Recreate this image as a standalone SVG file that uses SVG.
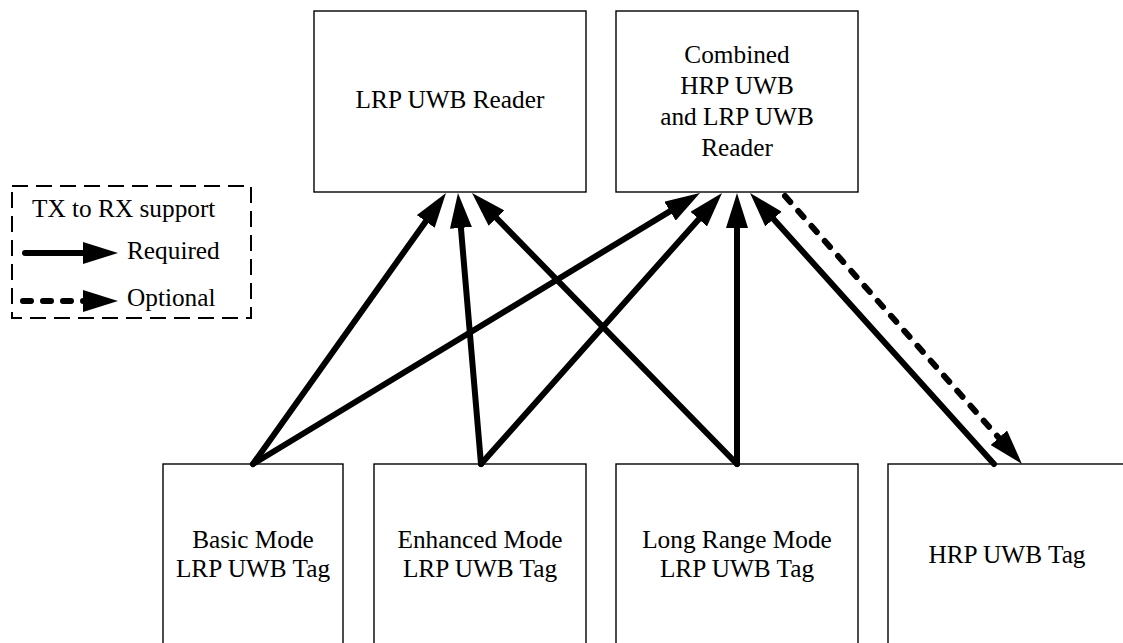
<svg xmlns="http://www.w3.org/2000/svg" width="1123" height="643" viewBox="0 0 1123 643">
  <style>
    .box { fill: #fff; stroke: #000; stroke-width: 1.4; }
    .lbl { font-family: "Liberation Serif", "Times New Roman", serif; font-size: 25.3px; fill: #000; text-anchor: middle; }
    .leg { font-family: "Liberation Serif", "Times New Roman", serif; font-size: 25.3px; fill: #000; }
    .req { fill: none; stroke: #000; stroke-width: 6; stroke-linecap: round; marker-end: url(#head); }
    .opt { fill: none; stroke: #000; stroke-width: 6; stroke-linecap: round; stroke-dasharray: 8 12; marker-end: url(#head); }
  </style>
  <defs>
    <marker id="head" viewBox="-5 -11 35 22" refX="0" refY="0" markerWidth="35" markerHeight="22" markerUnits="userSpaceOnUse" orient="auto">
      <path d="M-5,-11 L30,0 L-5,11 z" fill="#000"/>
    </marker>
  </defs>

  <rect width="1123" height="643" fill="#fff"/>

  <!-- readers -->
  <g id="lrp-reader">
    <rect class="box" x="314" y="11" width="272" height="181"/>
    <text class="lbl" x="450" y="108">LRP UWB Reader</text>
  </g>
  <g id="combined-reader">
    <rect class="box" x="616" y="11" width="242" height="181"/>
    <text class="lbl" x="737" y="63">Combined</text>
    <text class="lbl" x="737" y="94">HRP UWB</text>
    <text class="lbl" x="737" y="125">and LRP UWB</text>
    <text class="lbl" x="737" y="156">Reader</text>
  </g>

  <!-- tags -->
  <g id="basic-tag">
    <rect class="box" x="163" y="464" width="180" height="200"/>
    <text class="lbl" x="253" y="548">Basic Mode</text>
    <text class="lbl" x="253" y="577">LRP UWB Tag</text>
  </g>
  <g id="enhanced-tag">
    <rect class="box" x="374" y="464" width="212" height="200"/>
    <text class="lbl" x="480" y="548">Enhanced Mode</text>
    <text class="lbl" x="480" y="577">LRP UWB Tag</text>
  </g>
  <g id="long-range-tag">
    <rect class="box" x="616" y="464" width="242" height="200"/>
    <text class="lbl" x="737" y="548">Long Range Mode</text>
    <text class="lbl" x="737" y="577">LRP UWB Tag</text>
  </g>
  <g id="hrp-tag">
    <rect class="box" x="888" y="464" width="245" height="200"/>
    <text class="lbl" x="1007" y="563">HRP UWB Tag</text>
  </g>

  <!-- legend -->
  <g id="legend">
    <rect x="12" y="186" width="239" height="132" fill="none" stroke="#000" stroke-width="2" stroke-dasharray="16 8"/>
    <text class="leg" x="32" y="217">TX to RX support</text>
    <line class="req" x1="25" y1="253" x2="88" y2="253"/>
    <text class="leg" x="127" y="259">Required</text>
    <line class="opt" x1="23" y1="301" x2="88" y2="301"/>
    <text class="leg" x="127" y="306">Optional</text>
  </g>

  <!-- connectors -->
  <g id="connectors">
    <line class="req" x1="253" y1="464" x2="428.6" y2="217.4"/>
    <line class="req" x1="253" y1="464" x2="674.3" y2="208.6"/>
    <line class="req" x1="481" y1="464" x2="460.5" y2="222.9"/>
    <line class="req" x1="481" y1="464" x2="702.1" y2="215.4"/>
    <line class="req" x1="737" y1="464" x2="493.0" y2="214.5"/>
    <line class="req" x1="737" y1="464" x2="737" y2="223"/>
    <line class="req" x1="994" y1="464" x2="770.1" y2="215.3"/>
    <line class="opt" x1="785" y1="196" x2="1002.1" y2="441.5"/>
  </g>
</svg>
